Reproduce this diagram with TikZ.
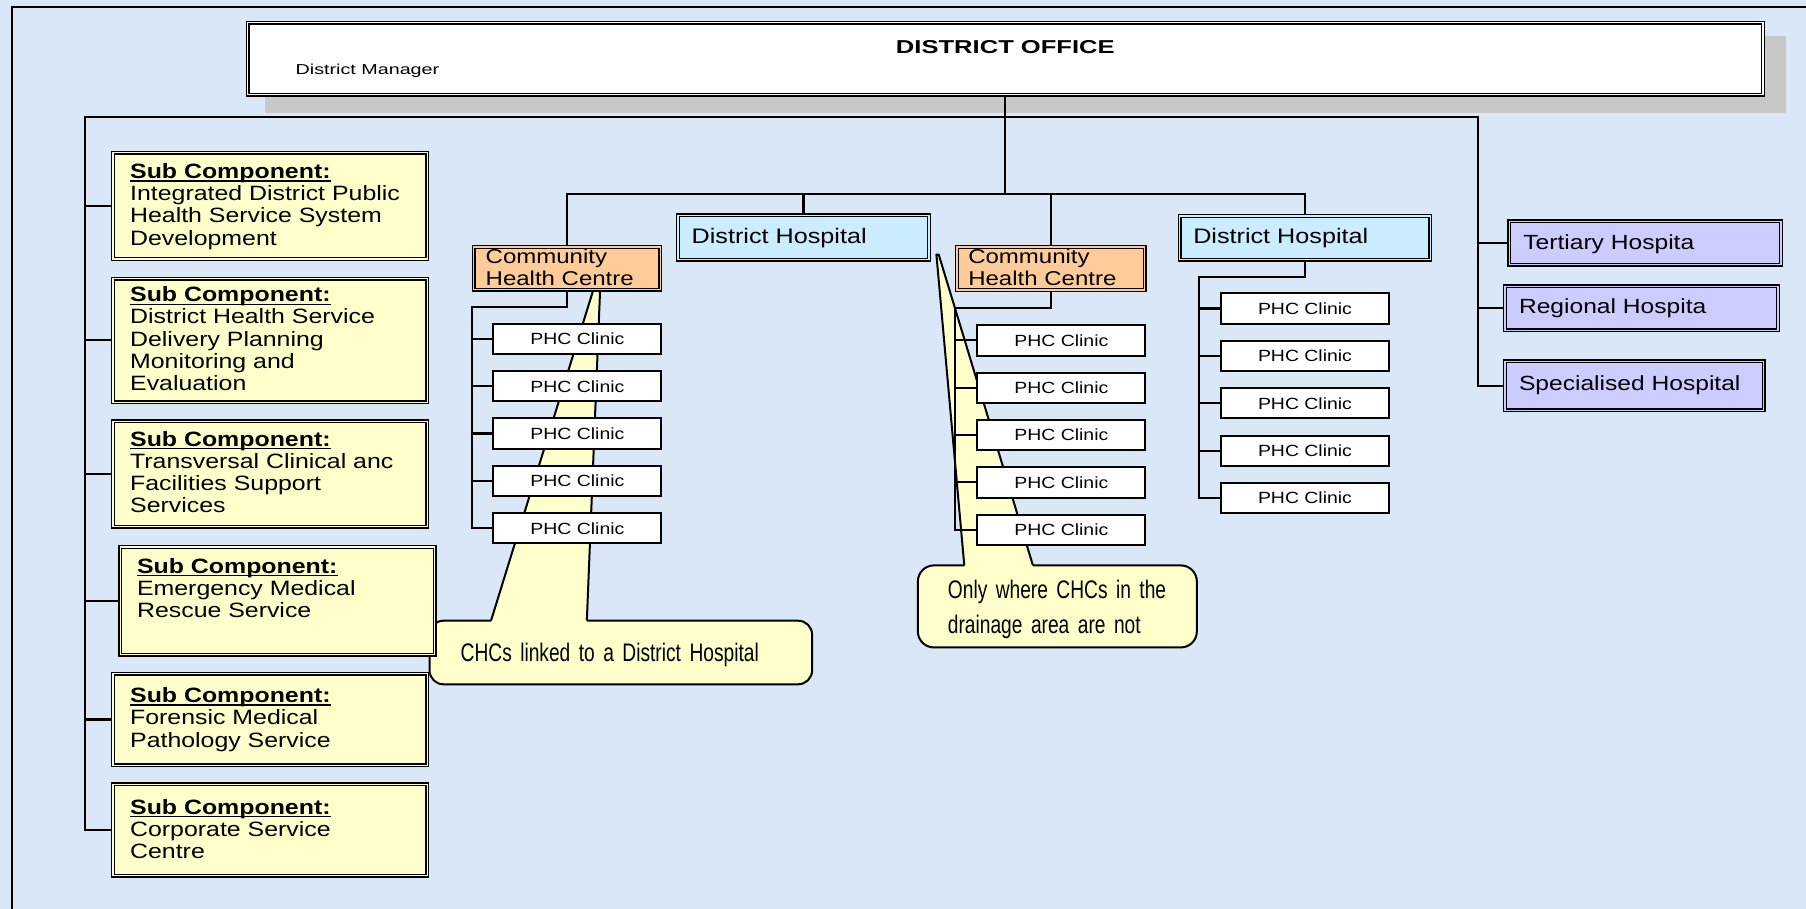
\documentclass[tikz,border=0pt]{standalone}
\usepackage{fontspec}
\setmainfont{Liberation Sans}
\newfontfamily\fA[FakeStretch=1.2]{Liberation Sans}
\newfontfamily\fB[FakeStretch=1.37]{Liberation Sans}
\newfontfamily\fN[FakeStretch=0.755]{Liberation Sans}
\definecolor{bgblue}{RGB}{217,231,246}
\definecolor{subyel}{RGB}{255,255,204}
\definecolor{chcor}{RGB}{255,204,153}
\definecolor{dhblue}{RGB}{204,236,255}
\definecolor{hosppur}{RGB}{204,204,255}
\definecolor{shgray}{RGB}{200,200,200}
\pgfdeclarelayer{bg}
\pgfdeclarelayer{lines}
\pgfsetlayers{bg,lines,main}
\newcommand\subul[1]{\setbox0\hbox{#1}\rlap{\rule[-1.5pt]{\wd0}{0.6pt}}\box0}
\newcommand\dbox[6]{\node[dblbox=#1, minimum width={(#5-#3-3.4)*0.5759pt}, minimum height={(#6-#4-3.4)*0.5759pt}] (#2) at ({(#3+#5)/2},{(#4+#6)/2}) {};}
\tikzset{
  dblbox/.style={draw=black, line width=0.7pt, double=#1, double distance=0.6pt, fill=#1, inner sep=0pt, outer sep=0pt},
  phcbox/.style={draw=black, line width=1pt, fill=white, inner sep=0pt, outer sep=0pt,
     minimum width={145.8*0.5759pt}, minimum height={26.3*0.5759pt}, font=\fA\fontsize{8.1}{9}\selectfont},
  conn/.style={line width=1.1pt},
  trunk/.style={line width=1.1pt, line cap=rect},
  txt/.style={inner sep=0pt, outer sep=0pt, anchor=base west},
  subtxt/.style={txt, text width=165pt, align=left, font=\fA\fontsize{10.37}{11.1}\selectfont},
  chctxt/.style={txt, text width=100pt, align=left, font=\fA\fontsize{10}{10.85}\selectfont},
  dhtxt/.style={txt, font=\fA\fontsize{10.5}{12}\selectfont},
  hosptxt/.style={txt, font=\fA\fontsize{10.25}{12}\selectfont},
  calltxt/.style={txt, text width=160pt, align=left, font=\fN\fontsize{12.7}{17.6}\selectfont},
  callout/.style={fill=subyel, draw=black, line width=1pt}
}
\begin{document}
\begin{tikzpicture}[x=0.5759pt, y=-0.5759pt]
\useasboundingbox (0,0) rectangle (1568,789);

% ---------- boxes ----------
\dbox{white}{do}{213.3}{18}{1532.4}{84}
\dbox{subyel}{s1}{96.4}{130.8}{372.8}{226.6}
\dbox{subyel}{s2}{96.4}{240.2}{372.8}{350.8}
\dbox{subyel}{s3}{96.4}{364}{372.8}{459}
\dbox{subyel}{s4}{102.7}{473.2}{379.1}{570.2}
\dbox{subyel}{s5}{96.4}{583.2}{372.8}{666.2}
\dbox{subyel}{s6}{96.4}{679.2}{372.8}{762}
\dbox{chcor}{chc1}{409.5}{212.7}{575}{253.2}
\dbox{chcor}{chc2}{829.1}{212.7}{995.6}{253.5}
\dbox{dhblue}{dh1}{587}{185.2}{808.3}{227.2}
\dbox{dhblue}{dh2}{1022.5}{185.8}{1243.5}{227.2}
\dbox{hosppur}{tert}{1308.6}{190.4}{1548}{231.5}
\dbox{hosppur}{reg}{1305}{246.9}{1545.4}{288.5}
\dbox{hosppur}{spec}{1305}{312}{1533}{358}

\foreach \k in {0,...,4} {
  \node[phcbox] (a\k) at (501.35,{294.2+41.1*\k}) {PHC Clinic};
  \node[phcbox] (b\k) at (921.5,{295.5+41.1*\k}) {PHC Clinic};
  \node[phcbox] (c\k) at (1133,{267.85+41.15*\k}) {PHC Clinic};
}

% ---------- texts ----------
\node[txt, anchor=base, font=\fB\bfseries\fontsize{9.33}{11}\selectfont] (dotitle) at (872.85,46.3) {DISTRICT OFFICE};
\node[txt, font=\fB\fontsize{7.2}{9}\selectfont] (dman) at (256.7,65) {District Manager};

\node[subtxt] (t1) at (113,155) {\subul{\bfseries Sub Component:}\\Integrated District Public\\Health Service System\\Development};
\node[subtxt] (t2) at (113,262) {\subul{\bfseries Sub Component:}\\District Health Service\\Delivery Planning\\Monitoring and\\Evaluation};
\node[subtxt] (t3) at (113,387.5) {\subul{\bfseries Sub Component:}\\Transversal Clinical anc\\Facilities Support\\Services};
\node[subtxt] (t4) at (119,497.8) {\subul{\bfseries Sub Component:}\\Emergency Medical\\Rescue Service};
\node[subtxt] (t5) at (113,610) {\subul{\bfseries Sub Component:}\\Forensic Medical\\Pathology Service};
\node[subtxt] (t6) at (113,707) {\subul{\bfseries Sub Component:}\\Corporate Service\\Centre};

\node[chctxt] (chc1t) at (421.7,228.6) {Community\\Health Centre};
\node[chctxt] (chc2t) at (840.7,228.6) {Community\\Health Centre};
\node[dhtxt] (dh1t) at (600.5,211) {District Hospital};
\node[dhtxt] (dh2t) at (1036,211.3) {District Hospital};
\node[hosptxt] (tertt) at (1322.6,216.5) {Tertiary Hospita};
\node[hosptxt] (regt) at (1318.8,272) {Regional Hospita};
\node[hosptxt] (spect) at (1318.8,339) {Specialised Hospital};

\node[calltxt] (ct1) at (400,574.5) {CHCs linked to a District Hospital};
\node[calltxt] (ct2) at (823,519.5) {Only where CHCs in the\\drainage area are not};

% ---------- background, shadow, callouts ----------
\begin{pgfonlayer}{bg}
  \fill[bgblue] (0,0) rectangle (1568,789);
  \draw[line width=1pt] (1568,5.8) -- (10.1,5.8) -- (10.1,789);
  \fill[shgray] (230,31.3) rectangle (1550.6,97.8);
  % callout 1
  \filldraw[callout, rounded corners=7pt] (372.9,538.9) rectangle (705.1,594.1);
  \fill[subyel] (426.3,538.9) -- (515,252) -- (521,252) -- (509.5,538.9) -- (509.5,543) -- (426.3,543) -- cycle;
  \draw[line width=1pt] (426.3,538.9) -- (515,252) -- (521,252) -- (509.5,538.9);
  % callout 2
  \filldraw[callout, rounded corners=8pt] (796.9,490.9) rectangle (1039.1,562.1);
  \fill[subyel] (837.2,490.9) -- (813,221) -- (815,221) -- (896.8,490.9) -- (896.8,495) -- (837.2,495) -- cycle;
  \draw[line width=1pt, line join=round] (837.2,490.9) -- (813,221) -- (815,221) -- (896.8,490.9);
\end{pgfonlayer}

% ---------- connectors ----------
\begin{pgfonlayer}{lines}
  \coordinate (tl) at (73.8,101.3);
  \coordinate (tr) at (1283.5,101.3);
  \coordinate (hbM) at (872.85,168.4);
  \draw[conn] (do.south) -- (hbM);
  \draw[trunk] (s6.west) -| (tl) -- (tr) |- (spec.west);
  \foreach \i in {1,...,5} { \draw[conn] (s\i.west) -- (tl |- s\i.west); }
  \draw[conn] (tert.west) -- (tr |- tert.west);
  \draw[conn] (reg.west) -- (tr |- reg.west);
  \draw[trunk] (chc1.north) |- (dh2.north |- hbM) -- (dh2.north);
  \draw[conn] (dh1.north) -- (dh1.north |- hbM);
  \draw[conn] (chc2.north) -- (chc2.north |- hbM);
  \coordinate (c1v) at (409.5,266.8);
  \coordinate (c2v) at (829.1,267.7);
  \coordinate (d2v) at (1041,240.2);
  \draw[trunk] (chc1.south) |- (c1v) |- (a4.west);
  \draw[trunk] (chc2.south) |- (c2v) |- (b4.west);
  \draw[trunk] (dh2.south) |- (d2v) |- (c4.west);
  \foreach \k in {0,...,3} {
    \draw[conn] (a\k.west) -- (c1v |- a\k.west);
    \draw[conn] (b\k.west) -- (c2v |- b\k.west);
    \draw[conn] (c\k.west) -- (d2v |- c\k.west);
  }
\end{pgfonlayer}
\end{tikzpicture}
\end{document}
